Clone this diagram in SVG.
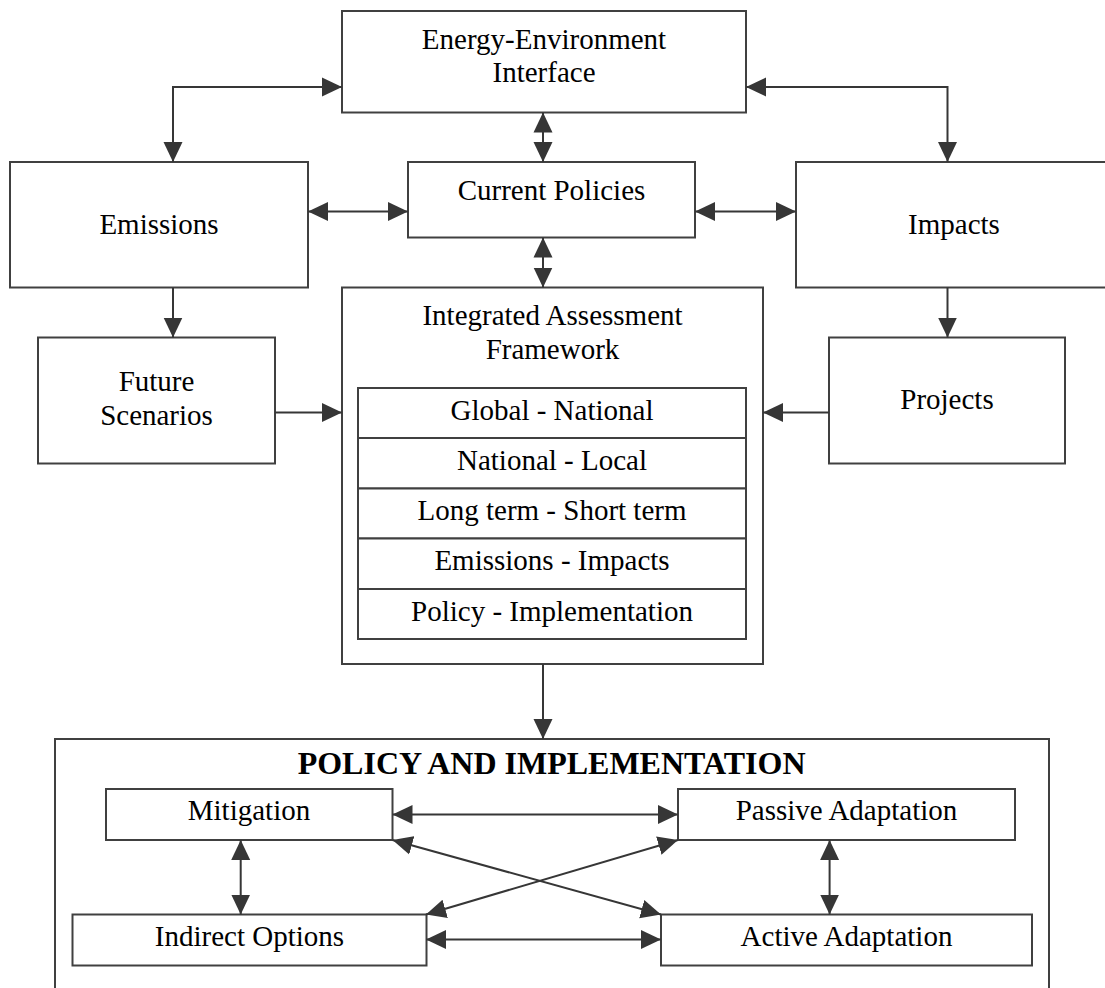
<svg xmlns="http://www.w3.org/2000/svg" width="1105" height="988" viewBox="0 0 1105 988">
<style>
.box{fill:#fff;stroke:#404040;stroke-width:2}
.frame{fill:none;stroke:#404040;stroke-width:2}
.t{font-family:"Liberation Serif","Times New Roman",serif;font-size:29px;fill:#000;text-anchor:middle}
.h{font-family:"Liberation Serif","Times New Roman",serif;font-size:32px;font-weight:bold;fill:#000;text-anchor:middle}
.c{fill:none;stroke:#363636;stroke-width:2}
</style>
<defs>
<marker id="ah" markerUnits="userSpaceOnUse" markerWidth="20" markerHeight="20" refX="20" refY="10" orient="auto-start-reverse" viewBox="0 0 20 20">
<path d="M0,0.5 L20,10 L0,19.5 z" fill="#363636"/>
</marker>
</defs>
<rect width="1105" height="988" fill="#fff"/>
<g id="energy-environment">
<rect class="box" x="342" y="11" width="404" height="101.5"/>
<text class="t" x="544" y="48.5">Energy-Environment</text>
<text class="t" x="544" y="82">Interface</text>
</g>
<g id="emissions">
<rect class="box" x="10" y="162" width="298" height="125.5"/>
<text class="t" x="159" y="233.5">Emissions</text>
</g>
<g id="current-policies">
<rect class="box" x="408" y="162" width="287" height="75.5"/>
<text class="t" x="551.5" y="200">Current Policies</text>
</g>
<g id="impacts">
<rect class="box" x="796" y="162" width="316" height="125.5"/>
<text class="t" x="954" y="233.5">Impacts</text>
</g>
<g id="future-scenarios">
<rect class="box" x="38" y="337.5" width="237" height="126"/>
<text class="t" x="156.5" y="390.5">Future</text>
<text class="t" x="156.5" y="424.5">Scenarios</text>
</g>
<g id="projects">
<rect class="box" x="829" y="337.5" width="236" height="126"/>
<text class="t" x="947" y="408.5">Projects</text>
</g>
<g id="integrated-assessment">
<rect class="box" x="342" y="287.5" width="421" height="376.5"/>
<text class="t" x="552.5" y="325">Integrated Assessment</text>
<text class="t" x="552.5" y="358.5">Framework</text>
<rect class="box" x="358" y="388" width="388" height="50"/>
<rect class="box" x="358" y="438" width="388" height="50.5"/>
<rect class="box" x="358" y="488.5" width="388" height="50"/>
<rect class="box" x="358" y="538.5" width="388" height="50.5"/>
<rect class="box" x="358" y="589" width="388" height="50"/>
<text class="t" x="552" y="419.5">Global - National</text>
<text class="t" x="552" y="469.5">National - Local</text>
<text class="t" x="552" y="520">Long term - Short term</text>
<text class="t" x="552" y="570">Emissions - Impacts</text>
<text class="t" x="552" y="620.5">Policy - Implementation</text>
</g>
<g id="policy-implementation">
<path class="frame" d="M55,990 V739 H1049 V990"/>
<text class="h" x="551.6" y="773.5">POLICY AND IMPLEMENTATION</text>
</g>
<g id="mitigation">
<rect class="box" x="106" y="789" width="286.5" height="51"/>
<text class="t" x="249" y="820">Mitigation</text>
</g>
<g id="passive-adaptation">
<rect class="box" x="678" y="789" width="337" height="51"/>
<text class="t" x="846.5" y="820">Passive Adaptation</text>
</g>
<g id="indirect-options">
<rect class="box" x="72.5" y="914.5" width="354" height="51"/>
<text class="t" x="249.5" y="946">Indirect Options</text>
</g>
<g id="active-adaptation">
<rect class="box" x="661" y="914.5" width="371" height="51"/>
<text class="t" x="846.5" y="946">Active Adaptation</text>
</g>
<g id="connectors">
<path class="c" d="M342,87 H173 V162" marker-start="url(#ah)" marker-end="url(#ah)"/>
<path class="c" d="M746,87 H947.5 V162" marker-start="url(#ah)" marker-end="url(#ah)"/>
<path class="c" d="M543,112.5 V162" marker-start="url(#ah)" marker-end="url(#ah)"/>
<path class="c" d="M543,237.5 V287.5" marker-start="url(#ah)" marker-end="url(#ah)"/>
<path class="c" d="M308,211.5 H408" marker-start="url(#ah)" marker-end="url(#ah)"/>
<path class="c" d="M695,211.5 H796" marker-start="url(#ah)" marker-end="url(#ah)"/>
<path class="c" d="M173,287.5 V337.5" marker-end="url(#ah)"/>
<path class="c" d="M947.5,287.5 V337.5" marker-end="url(#ah)"/>
<path class="c" d="M275,412.5 H342" marker-end="url(#ah)"/>
<path class="c" d="M829,412.5 H763" marker-end="url(#ah)"/>
<path class="c" d="M543,664 V739" marker-end="url(#ah)"/>
<path class="c" d="M392.5,814.5 H678" marker-start="url(#ah)" marker-end="url(#ah)"/>
<path class="c" d="M426,939.5 H661" marker-start="url(#ah)" marker-end="url(#ah)"/>
<path class="c" d="M240.7,840 V914.5" marker-start="url(#ah)" marker-end="url(#ah)"/>
<path class="c" d="M829.6,840 V914.5" marker-start="url(#ah)" marker-end="url(#ah)"/>
<path class="c" d="M392.5,840 L661,914.5" marker-start="url(#ah)" marker-end="url(#ah)"/>
<path class="c" d="M426,914.5 L678,840" marker-start="url(#ah)" marker-end="url(#ah)"/>
</g>
</svg>
